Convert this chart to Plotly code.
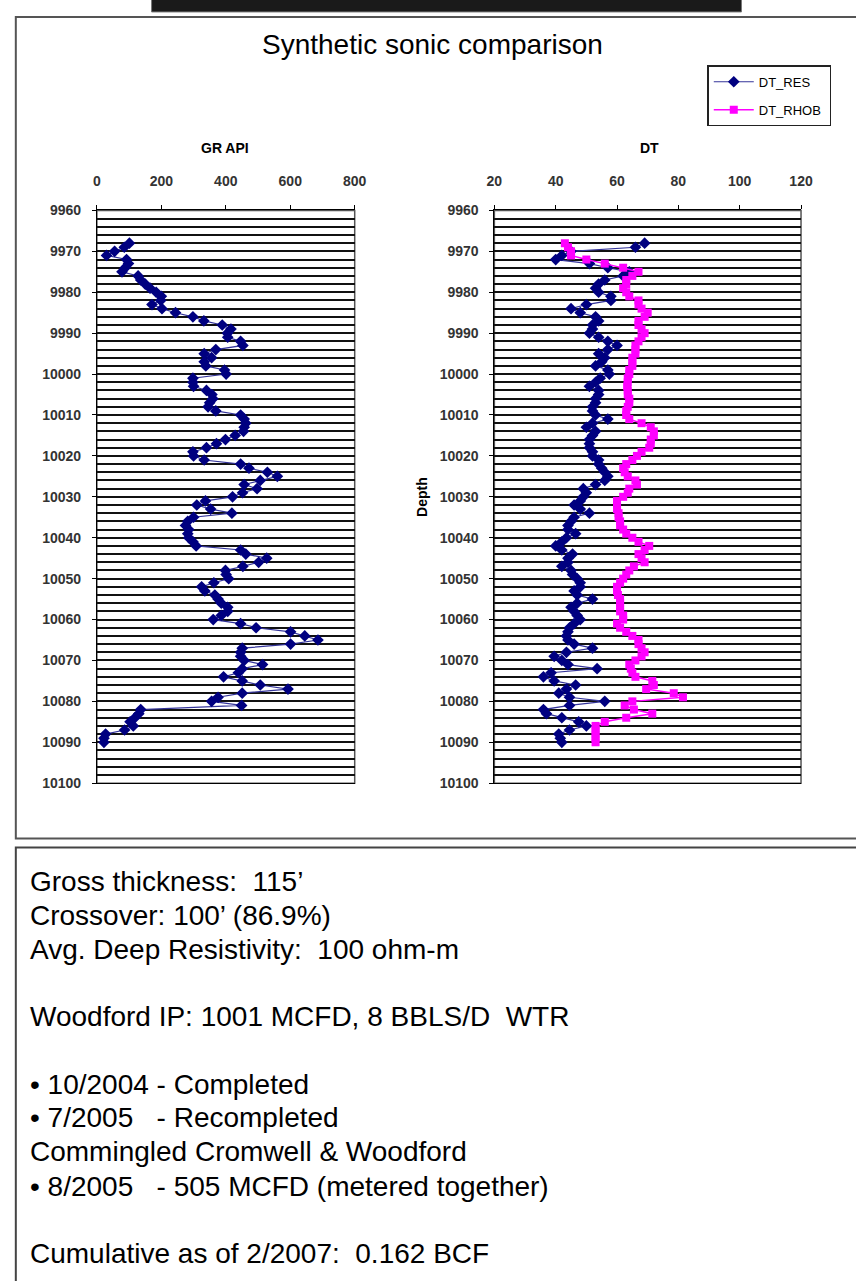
import plotly.graph_objects as go

W, H = 856, 1281

# Depth samples (ft), one reading per foot
depth = list(range(9968, 10091))

gr_api = [
    101, 85, 55, 30, 92, 98, 88, 78, 128, 136,
    150, 165, 184, 200, 198, 171, 202, 244, 298, 332,
    389, 416, 405, 406, 446, 453, 369, 333, 356, 333,
    338, 396, 401, 298, 298, 300, 340, 357, 360, 350,
    345, 369, 446, 457, 462, 457, 455, 429, 399, 371,
    340, 298, 300, 333, 446, 472, 529, 560, 507, 457,
    497, 452, 421, 337, 310, 353, 419, 300, 282, 275,
    285, 282, 285, 298, 308, 446, 462, 527, 502, 453,
    399, 401, 409, 363, 325, 335, 366, 376, 386, 406,
    406, 386, 361, 446, 494, 601, 645, 686, 601, 451,
    446, 446, 457, 514, 451, 439, 393, 451, 507, 593,
    451, 376, 356, 449, 136, 130, 118, 103, 113, 86,
    27, 22, 22,
]

dt_res = [
    69, 66, 45, 42, 40, 51, 57, 64, 62, 56,
    54, 53, 54, 58, 58, 50, 45, 48, 53, 54,
    52, 52, 51, 54, 57, 60, 57, 54, 56, 55,
    53, 57, 57.5, 54.5, 53, 51, 54, 54, 53, 53,
    52, 52, 53, 57, 52, 50, 53, 52, 51, 51,
    51, 52, 52, 54, 54, 55, 56, 57, 56, 53,
    49, 50, 49, 48, 46, 48, 51, 46, 45, 44,
    44, 46.5, 43.5, 42, 40, 42, 45.5, 44, 44, 42,
    45, 45.5, 47, 48, 48, 46, 47, 52, 47, 45,
    46, 47, 48, 46, 44.5, 44, 43.5, 44, 46, 52,
    43.5, 39.5, 42, 44, 53.5, 38.5, 36, 39.5, 46.5, 43.5,
    41, 44.5, 56, 44.5, 36, 37, 42, 47.5, 50, 44.5,
    41, 41.5, 42,
]

dt_rhob = [
    43, 44, 45, 45, 50, 56, 62, 67, 65, 63,
    63, 62, 63, 64, 67, 67, 68, 70, 69, 67,
    67, 68, 69, 68, 67, 66, 66, 66, 65, 65,
    65, 64, 64, 63.5, 63.5, 63.3, 63.5, 63.5, 64, 64,
    63.5, 63, 63, 64, 68, 71, 72, 72, 71, 71,
    70.5, 68, 66.5, 65, 63, 62, 62.5, 63.5, 66, 66.5,
    64, 63.5, 62, 60, 60, 60, 60.5, 60.5, 61, 61,
    62, 63, 65, 67, 70.5, 69, 67, 68, 69, 65.5,
    64, 63, 62, 61, 60, 60, 60.3, 61, 61, 61,
    61, 62, 62, 60, 61, 63, 65, 67, 67, 68,
    69, 68, 66, 64, 64.5, 65, 66, 71.5, 72, 69.5,
    78.5, 81.5, 65, 62.5, 65.5, 71.5, 63, 56, 53, 53,
    53, 53, 53,
]

gr_ticks = [0, 200, 400, 600, 800]
dt_ticks = [20, 40, 60, 80, 100, 120]
depth_range = [10100, 9960]

NAVY = "#000080"
NAVY_LINE = "#34349a"
MAGENTA = "#ff00ff"
FONT = "Liberation Sans, Arial, sans-serif"


def px(x):
    return x / W


def py(y):
    return 1 - y / H


fig = go.Figure()

fig.add_trace(go.Scatter(
    x=gr_api, y=depth, mode="lines+markers", name="GR API", showlegend=False,
    line=dict(color=NAVY_LINE, width=1.2),
    marker=dict(symbol="diamond", size=9, color=NAVY),
    xaxis="x", yaxis="y",
))
fig.add_trace(go.Scatter(
    x=dt_res, y=depth, mode="lines+markers", name="DT_RES", legendgroup="a",
    line=dict(color=NAVY_LINE, width=1.2),
    marker=dict(symbol="diamond", size=9, color=NAVY),
    xaxis="x2", yaxis="y2",
))
fig.add_trace(go.Scatter(
    x=dt_rhob, y=depth, mode="lines+markers", name="DT_RHOB\u00a0", legendgroup="b",
    line=dict(color=MAGENTA, width=1.5),
    marker=dict(symbol="square", size=8, color=MAGENTA),
    xaxis="x2", yaxis="y2",
))

tick_font = dict(family=FONT, size=14, color="#333333", weight="bold")

yaxis_common = dict(
    range=depth_range, dtick=10, tick0=0, tickformat="d",
    showgrid=True, gridcolor="#111111", gridwidth=1.5,
    minor=dict(dtick=2, showgrid=True, gridcolor="#111111", gridwidth=1.5),
    showline=True, linecolor="black", linewidth=1,
    ticks="outside", ticklen=4, tickcolor="black", ticklabelstandoff=8,
    tickfont=tick_font, zeroline=False,
    domain=[py(785), py(205)],
)
xaxis_common = dict(
    side="top", showgrid=False, zeroline=False,
    showline=True, linecolor="black", linewidth=1, mirror=True,
    ticks="outside", ticklen=4, tickcolor="black", ticklabelstandoff=14,
    tickfont=tick_font,
)

fig.update_layout(
    width=W, height=H,
    margin=dict(l=0, r=0, t=0, b=0),
    paper_bgcolor="white", plot_bgcolor="white",
    font=dict(family=FONT),
    xaxis=dict(xaxis_common, range=[0, 800], tickvals=gr_ticks,
               domain=[px(91), px(355)], anchor="y"),
    yaxis=dict(yaxis_common, anchor="x"),
    xaxis2=dict(xaxis_common, range=[20, 120], tickvals=dt_ticks,
                domain=[px(498), px(812)], anchor="y2"),
    yaxis2=dict(yaxis_common, anchor="x2"),
    legend=dict(
        x=px(716), y=py(58), xanchor="left", yanchor="top",
        bordercolor="#222222", borderwidth=1.5, bgcolor="white",
        font=dict(family=FONT, size=13, color="black"),
        traceorder="grouped", tracegroupgap=8, itemwidth=40,
    ),
)

# Plot-area borders (gray frame on the right side)
for xr, yr in (("x domain", "y domain"), ("x2 domain", "y2 domain")):
    fig.add_shape(type="rect", xref=xr, yref=yr, x0=0, x1=1, y0=0, y1=1,
                  line=dict(color="#555555", width=1.5), layer="below")

# Outer frames of the chart panel and the notes panel
fig.add_shape(type="rect", xref="paper", yref="paper",
              x0=px(8), x1=px(870), y0=py(841), y1=py(9),
              line=dict(color="#555555", width=2), fillcolor="rgba(0,0,0,0)")
fig.add_shape(type="rect", xref="paper", yref="paper",
              x0=px(8), x1=px(870), y0=py(1300), y1=py(850),
              line=dict(color="#444444", width=2), fillcolor="rgba(0,0,0,0)")
fig.add_shape(type="rect", xref="paper", yref="paper",
              x0=px(147), x1=px(751), y0=py(4), y1=py(-10),
              line=dict(color="#777777", width=1), fillcolor="#1a1a1a")

annotations = [
    dict(text="Synthetic sonic comparison", x=px(435), y=py(37),
         font=dict(size=28, color="black")),
    dict(text="<b>GR API</b>", x=px(222), y=py(142),
         font=dict(size=14, color="black")),
    dict(text="<b>DT</b>", x=px(657), y=py(142),
         font=dict(size=14, color="black")),
    dict(text="<b>Depth</b>", x=px(424), y=py(495), textangle=-90,
         font=dict(size=14, color="black")),
]
for a in annotations:
    a.update(xref="paper", yref="paper", showarrow=False,
             xanchor="center", yanchor="middle")
    fig.add_annotation(**a)

notes = [
    ("Gross thickness:  115\u2019", 885),
    ("Crossover: 100\u2019 (86.9%)", 919),
    ("Avg. Deep Resistivity:  100 ohm-m", 953),
    ("Woodford IP: 1001 MCFD, 8 BBLS/D  WTR", 1021),
    ("\u2022 10/2004 - Completed", 1090),
    ("\u2022 7/2005   - Recompleted", 1124),
    ("Commingled Cromwell &amp; Woodford", 1158),
    ("\u2022 8/2005   - 505 MCFD (metered together)", 1193),
    ("Cumulative as of 2/2007:  0.162 BCF", 1261),
]
for text, y in notes:
    fig.add_annotation(text=text.replace("   ", "&nbsp;&nbsp; "),
                       x=px(20), y=py(y), xref="paper", yref="paper",
                       showarrow=False, xanchor="left", yanchor="middle",
                       font=dict(size=28, color="black", family=FONT))

fig.write_html("out.html")
